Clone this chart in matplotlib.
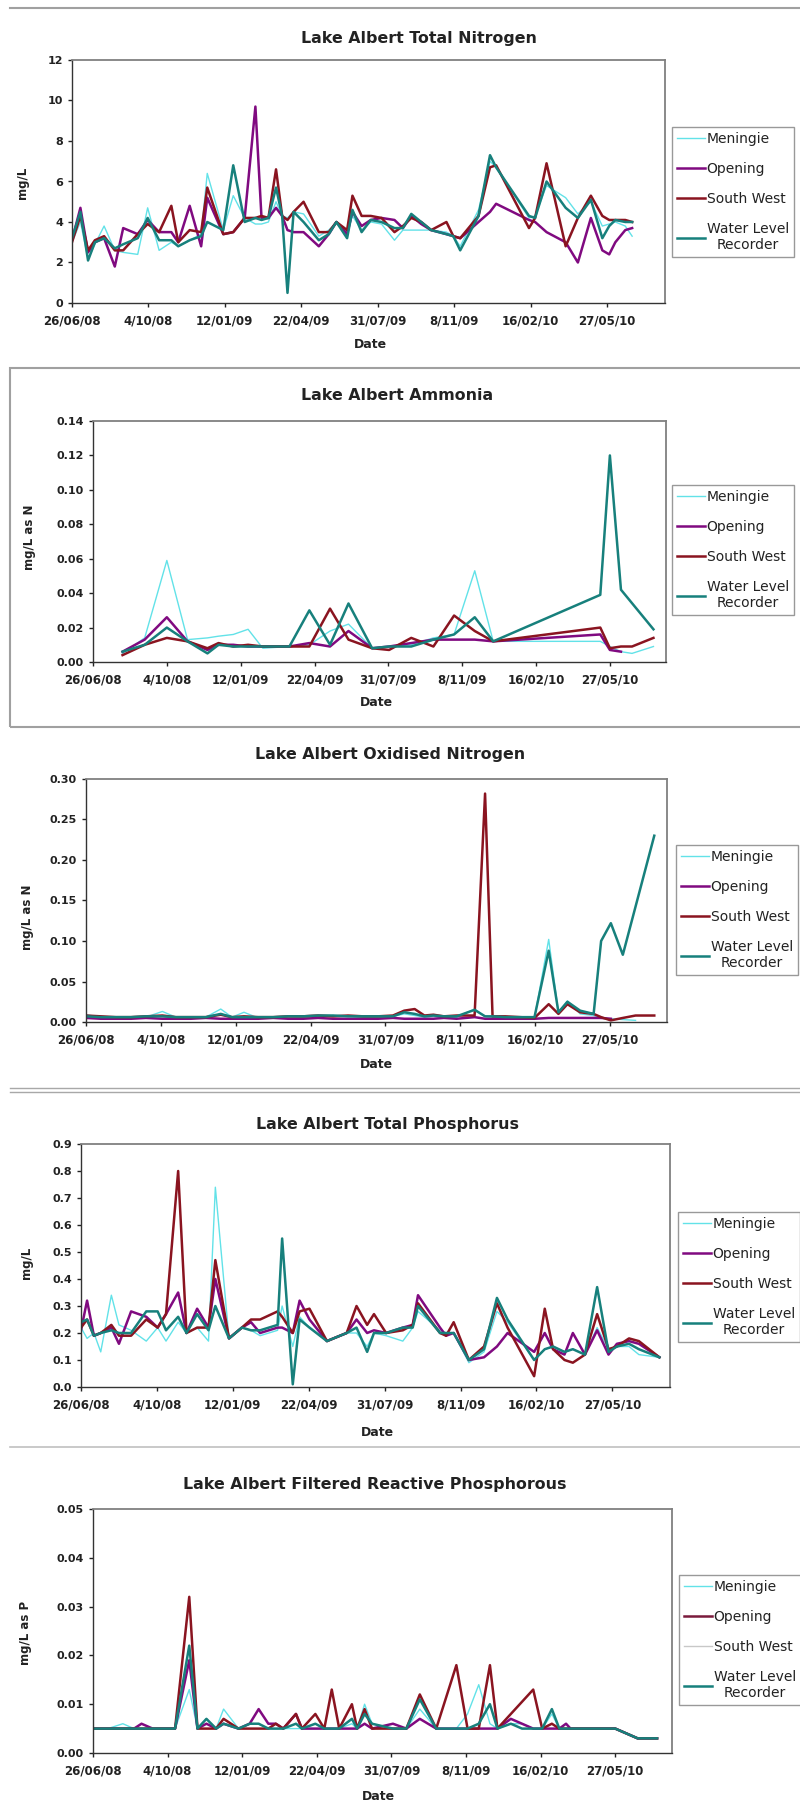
import numpy as np
import matplotlib
matplotlib.use("Agg")
import matplotlib.pyplot as plt
from matplotlib.lines import Line2D
from matplotlib.patches import Rectangle

nan = np.nan
W, H = 800, 1816

SITES = ["Meningie", "Opening", "South West", "Water Level\nRecorder"]
TICK_DAYS = [0, 100, 200, 300, 400, 500, 600, 700]   # days after 26/06/08
TICK_LABELS = ["26/06/08", "4/10/08", "12/01/09", "22/04/09", "31/07/09",
               "8/11/09", "16/02/10", "27/05/10"]
X_MAX = 776

# ---- Total Nitrogen (mg/L) ----
TN_DAYS = [0, 11, 21, 30, 42, 56, 67, 86, 99, 114, 130, 139, 154, 169, 177, 198, 211,
           226, 240, 248, 257, 267, 275, 282, 290, 303, 323, 336, 346, 360, 367, 379,
           391, 405, 422, 433, 444, 457, 470, 490, 499, 508, 532, 547, 555, 598, 606,
           621, 646, 662, 679, 694, 703, 711, 724, 733]
TN_MEN = [3.0, 4.0, 2.2, 2.9, 3.8, 2.6, 2.5, 2.4, 4.7, 2.6, 3.0, 2.8, 3.1, 3.4, 6.4,
          3.6, 5.3, 4.2, 3.9, 3.9, 4.0, 5.0, 4.3, 4.2, 4.5, 4.4, 3.3, 3.6, 4.0, 3.5,
          4.3, 3.6, 4.0, 3.9, 3.1, 3.6, 3.6, 3.6, 3.6, 3.5, 3.3, 2.8, 4.6, 7.0, 6.7,
          4.2, 4.3, 5.8, 5.2, 4.4, 5.0, 3.8, 3.9, 4.0, 3.8, 3.3]
TN_OPEN = [3.1, 4.7, 2.5, 3.0, 3.2, 1.8, 3.7, 3.4, 4.1, 3.5, 3.5, 3.0, 4.8, 2.8, 5.2,
           3.4, 3.5, 4.2, 9.7, 4.2, 4.2, 4.7, 4.3, 3.6, 3.5, 3.5, 2.8, 3.4, 4.0, 3.4,
           4.5, 3.8, 4.1, 4.2, 4.1, 3.7, 4.3, 3.9, 3.6, 3.4, 3.3, 3.2, 4.0, 4.5, 4.9,
           4.1, 4.0, 3.5, 3.0, 2.0, 4.2, 2.6, 2.4, 3.0, 3.6, 3.7]
TN_SW = [3.0, 4.3, 2.6, 3.1, 3.3, 2.6, 2.6, 3.4, 3.9, 3.5, 4.8, 3.0, 3.6, 3.5, 5.7,
         3.4, 3.5, 4.2, 4.2, 4.3, 4.2, 6.6, 4.3, 4.1, 4.5, 5.0, 3.5, 3.5, 4.0, 3.6,
         5.3, 4.3, 4.3, 4.2, 3.5, 3.8, 4.2, 4.0, 3.6, 4.0, 3.3, 3.2, 4.3, 6.7, 6.8,
         3.7, 4.2, 6.9, 2.8, 4.2, 5.3, 4.3, 4.1, 4.1, 4.1, 4.0]
TN_WLR = [3.2, 4.5, 2.1, 3.0, 3.2, 2.7, 2.9, 3.2, 4.2, 3.1, 3.1, 2.8, 3.1, 3.3, 4.0,
          3.6, 6.8, 4.0, 4.2, 4.1, 4.2, 5.7, 4.3, 0.5, 4.5, 4.0, 3.1, 3.4, 4.0, 3.2,
          4.6, 3.5, 4.1, 4.0, 3.7, 3.7, 4.4, 4.0, 3.6, 3.4, 3.3, 2.6, 4.3, 7.3, 6.7,
          4.3, 4.2, 6.0, 4.7, 4.2, 5.1, 3.2, 3.8, 4.1, 4.0, 4.0]

# ---- Ammonia (mg/L as N) ----
NH3_DAYS = [40, 70, 100, 128, 155, 170, 190, 210, 230, 266, 293, 321, 346, 378, 401,
            431, 461, 489, 517, 542, 687, 700, 715, 730, 759]
NH3_MEN = [0.005, 0.014, 0.059, 0.013, 0.014, 0.015, 0.016, 0.019, 0.008, 0.009, 0.010,
           0.018, 0.022, 0.008, 0.009, 0.010, 0.014, 0.016, 0.053, 0.012, 0.012, 0.009,
           0.006, 0.005, 0.009]
NH3_OPEN = [0.006, 0.013, 0.026, 0.012, 0.007, 0.010, 0.010, 0.009, 0.009, 0.009, 0.011,
            0.009, 0.018, 0.008, 0.009, 0.011, 0.013, 0.013, 0.013, 0.012, 0.016, 0.007,
            0.006, nan, nan]
NH3_SW = [0.004, 0.010, 0.014, 0.012, 0.008, 0.011, 0.009, 0.010, 0.009, 0.009, 0.009,
          0.031, 0.013, 0.008, 0.007, 0.014, 0.009, 0.027, 0.018, 0.012, 0.020, 0.008,
          0.009, 0.009, 0.014]
NH3_WLR = [0.006, 0.010, 0.020, 0.012, 0.005, 0.010, 0.009, 0.009, 0.009, 0.009, 0.030,
           0.010, 0.034, 0.008, 0.009, 0.009, 0.013, 0.016, 0.026, 0.012, 0.039, 0.120,
           0.042, nan, 0.019]

# ---- Oxidised Nitrogen (mg/L as N) ----
NOX_DAYS = [0, 20, 40, 60, 80, 102, 120, 140, 160, 180, 195, 211, 230, 250, 270, 290,
            310, 330, 350, 370, 390, 410, 425, 439, 452, 464, 478, 495, 519, 533, 543,
            560, 580, 599, 618, 631, 643, 660, 678, 688, 701, 717, 734, 759]
NOX_MEN = [0.009, 0.006, 0.005, 0.006, 0.006, 0.013, 0.006, 0.005, 0.006, 0.016,
           0.006, 0.012, 0.005, 0.005, 0.007, 0.006, 0.006, 0.008, 0.007, 0.006,
           0.005, 0.007, 0.010, 0.008, 0.006, 0.007, 0.005, 0.006, 0.016, 0.007,
           0.006, 0.006, 0.005, 0.005, 0.102, 0.012, 0.026, 0.010, 0.008, 0.005,
           0.004, 0.003, 0.002, nan]
NOX_OPEN = [0.005, 0.004, 0.004, 0.004, 0.005, 0.004, 0.004, 0.004, 0.005, 0.004,
            0.004, 0.004, 0.004, 0.005, 0.004, 0.004, 0.005, 0.004, 0.004, 0.004,
            0.004, 0.005, 0.004, 0.004, 0.004, 0.004, 0.005, 0.004, 0.006, 0.004,
            0.004, 0.004, 0.004, 0.004, 0.005, 0.005, 0.005, 0.005, 0.005, 0.005,
            0.004, nan, nan, nan]
NOX_SW = [0.008, 0.007, 0.006, 0.006, 0.007, 0.008, 0.006, 0.006, 0.006, 0.009,
          0.006, 0.007, 0.006, 0.006, 0.007, 0.007, 0.008, 0.007, 0.008, 0.007,
          0.007, 0.008, 0.014, 0.016, 0.008, 0.009, 0.007, 0.008, 0.008, 0.282,
          0.007, 0.007, 0.006, 0.005, 0.022, 0.010, 0.022, 0.012, 0.010, 0.006,
          0.002, 0.005, 0.008, 0.008]
NOX_WLR = [0.007, 0.006, 0.006, 0.006, 0.007, 0.007, 0.006, 0.006, 0.006, 0.010,
           0.006, 0.006, 0.006, 0.006, 0.007, 0.007, 0.008, 0.008, 0.007, 0.007,
           0.007, 0.007, 0.012, 0.010, 0.007, 0.008, 0.007, 0.007, 0.015, 0.007,
           0.007, 0.006, 0.006, 0.006, 0.088, 0.012, 0.025, 0.014, 0.010, 0.100,
           0.122, 0.083, nan, 0.230]

# ---- Total Phosphorus (mg/L) ----
TP_DAYS = [0, 8, 17, 26, 40, 50, 66, 86, 101, 112, 128, 139, 153, 168, 177, 195, 212,
           224, 236, 259, 265, 279, 288, 301, 324, 350, 363, 377, 386, 402, 424, 437,
           444, 473, 481, 491, 511, 531, 548, 562, 597, 611, 622, 637, 648, 664, 680,
           695, 706, 722, 735, 762]
TP_MEN = [0.22, 0.18, 0.20, 0.13, 0.34, 0.23, 0.21, 0.17, 0.22, 0.17, 0.24, 0.20, 0.22,
          0.17, 0.74, 0.18, 0.22, 0.21, 0.19, 0.21, 0.30, 0.15, 0.26, 0.22, 0.17, 0.20,
          0.20, 0.15, 0.20, 0.19, 0.17, 0.22, 0.28, 0.21, 0.20, 0.20, 0.09, 0.13, 0.28,
          0.24, 0.10, 0.14, 0.15, 0.13, 0.14, 0.12, 0.22, 0.14, 0.15, 0.15, 0.12, 0.11]
TP_OPEN = [0.21, 0.32, 0.19, 0.20, 0.22, 0.16, 0.28, 0.26, 0.22, 0.27, 0.35, 0.20, 0.29,
           0.22, 0.40, 0.18, 0.22, 0.24, 0.20, 0.22, 0.22, 0.20, 0.32, 0.25, 0.17, 0.20,
           0.25, 0.20, 0.21, 0.20, 0.22, 0.23, 0.34, 0.22, 0.19, 0.20, 0.10, 0.11, 0.15,
           0.20, 0.13, 0.20, 0.14, 0.12, 0.20, 0.12, 0.21, 0.12, 0.16, 0.17, 0.16, 0.11]
TP_SW = [0.22, 0.25, 0.19, 0.20, 0.23, 0.19, 0.19, 0.25, 0.22, 0.27, 0.80, 0.20, 0.22,
         0.22, 0.47, 0.18, 0.22, 0.25, 0.25, 0.28, 0.26, 0.20, 0.28, 0.29, 0.17, 0.20,
         0.30, 0.23, 0.27, 0.20, 0.21, 0.23, 0.31, 0.20, 0.19, 0.24, 0.10, 0.15, 0.31,
         0.22, 0.04, 0.29, 0.14, 0.10, 0.09, 0.12, 0.27, 0.14, 0.15, 0.18, 0.17, 0.11]
TP_WLR = [0.24, 0.25, 0.19, 0.20, 0.21, 0.20, 0.20, 0.28, 0.28, 0.21, 0.26, 0.20, 0.27,
          0.21, 0.30, 0.18, 0.22, 0.21, 0.21, 0.23, 0.55, 0.01, 0.25, 0.22, 0.17, 0.20,
          0.22, 0.13, 0.20, 0.20, 0.22, 0.22, 0.30, 0.20, 0.20, 0.20, 0.10, 0.14, 0.33,
          0.25, 0.10, 0.14, 0.15, 0.13, 0.14, 0.12, 0.37, 0.13, 0.15, 0.16, 0.14, 0.11]

# ---- Filtered Reactive Phosphorous (mg/L as P) ----
FRP_DAYS = [0, 20, 40, 55, 65, 80, 110, 129, 140, 152, 165, 175, 195, 210, 222, 235,
            245, 255, 272, 280, 298, 310, 320, 330, 347, 354, 364, 374, 402, 420, 438,
            460, 487, 502, 517, 532, 542, 560, 575, 590, 602, 615, 625, 634, 640, 700,
            730, 756]
FRP_MEN = [0.005, 0.005, 0.006, 0.005, 0.005, 0.005, 0.005, 0.013, 0.005, 0.007,
           0.005, 0.009, 0.005, 0.006, 0.006, 0.005, 0.005, 0.005, 0.005, 0.005,
           0.005, 0.005, 0.005, 0.005, 0.006, 0.005, 0.010, 0.006, 0.005, 0.005,
           0.009, 0.005, 0.005, 0.008, 0.014, 0.006, 0.005, 0.006, 0.006, 0.005,
           0.005, 0.008, 0.005, 0.005, 0.005, 0.005, 0.003, 0.003]
FRP_OPEN = [0.005, 0.005, 0.005, 0.005, 0.006, 0.005, 0.005, 0.019, 0.005, 0.006,
            0.005, 0.006, 0.005, 0.006, 0.009, 0.006, 0.006, 0.005, 0.008, 0.005,
            0.005, 0.005, 0.005, 0.005, 0.005, 0.005, 0.006, 0.005, 0.006, 0.005,
            0.007, 0.005, 0.005, 0.005, 0.005, 0.005, 0.005, 0.007, 0.006, 0.005,
            0.005, 0.005, 0.005, 0.006, 0.005, 0.005, 0.003, 0.003]
FRP_SW = [0.005, 0.005, 0.005, 0.005, 0.005, 0.005, 0.005, 0.032, 0.005, 0.005,
          0.005, 0.007, 0.005, 0.005, 0.005, 0.005, 0.006, 0.005, 0.008, 0.005,
          0.008, 0.005, 0.013, 0.005, 0.010, 0.005, 0.009, 0.005, 0.005, 0.005,
          0.012, 0.005, 0.018, 0.005, 0.005, 0.018, 0.005, nan, nan, 0.013,
          0.005, 0.006, 0.005, 0.005, 0.005, 0.005, 0.003, 0.003]
FRP_WLR = [0.005, 0.005, 0.005, 0.005, 0.005, 0.005, 0.005, 0.022, 0.005, 0.007,
           0.005, 0.006, 0.005, 0.006, 0.006, 0.005, 0.005, 0.005, 0.006, 0.005,
           0.006, 0.005, 0.005, 0.005, 0.007, 0.005, 0.008, 0.006, 0.005, 0.005,
           0.011, 0.005, 0.005, 0.005, 0.006, 0.010, 0.005, 0.006, 0.005, 0.005,
           0.005, 0.009, 0.005, 0.005, 0.005, 0.005, 0.003, 0.003]

PANELS = [
    dict(title="Lake Albert Total Nitrogen", ylabel="mg/L", ymax=12, ystep=2, fmt="{:.0f}",
         days=TN_DAYS, series=[TN_MEN, TN_OPEN, TN_SW, TN_WLR]),
    dict(title="Lake Albert Ammonia", ylabel="mg/L as N", ymax=0.14, ystep=0.02, fmt="{:.2f}",
         days=NH3_DAYS, series=[NH3_MEN, NH3_OPEN, NH3_SW, NH3_WLR]),
    dict(title="Lake Albert Oxidised Nitrogen", ylabel="mg/L as N", ymax=0.30, ystep=0.05,
         fmt="{:.2f}", days=NOX_DAYS, series=[NOX_MEN, NOX_OPEN, NOX_SW, NOX_WLR]),
    dict(title="Lake Albert Total Phosphorus", ylabel="mg/L", ymax=0.9, ystep=0.1, fmt="{:.1f}",
         days=TP_DAYS, series=[TP_MEN, TP_OPEN, TP_SW, TP_WLR]),
    dict(title="Lake Albert Filtered Reactive Phosphorous", ylabel="mg/L as P", ymax=0.05,
         ystep=0.01, fmt="{:.2f}", days=FRP_DAYS, series=[FRP_MEN, FRP_OPEN, FRP_SW, FRP_WLR]),
]

# pixel layout: axes box (left, right, top, bottom), title centre, ylabel centre,
# "Date" centre, legend top-left corner
LAYOUT = [
    dict(box=(72, 665, 60, 303), title=(419, 38), ylab=(23, 183), date=(370, 345), leg=(672, 127)),
    dict(box=(93, 666, 421, 662), title=(397, 396), ylab=(30, 537), date=(376, 703), leg=(672, 485)),
    dict(box=(86, 667, 779, 1022), title=(390, 755), ylab=(28, 917), date=(376, 1064), leg=(676, 845)),
    dict(box=(81, 670, 1144, 1387), title=(388, 1124), ylab=(26, 1263), date=(377, 1432), leg=(678, 1212)),
    dict(box=(93, 672, 1509, 1753), title=(375, 1485), ylab=(25, 1633), date=(378, 1797), leg=(679, 1575)),
]

COLORS = ["#62e2e8", "#800a80", "#8a1420", "#17807c"]
WIDTHS = [1.0, 1.8, 1.8, 1.8]


def fx(x):
    return x / W


def fy(y):
    return 1 - y / H


fig = plt.figure(figsize=(W / 100, H / 100), dpi=100)
fig.patch.set_facecolor("white")

for i, (p, lay) in enumerate(zip(PANELS, LAYOUT)):
    l, r, t, b = lay["box"]
    ax = fig.add_axes([fx(l), fy(b), (r - l) / W, (b - t) / H])
    days = np.asarray(p["days"], float)
    for name, vals, c, lw in zip(SITES, p["series"], COLORS, WIDTHS):
        y = np.asarray(vals, float)
        m = ~np.isnan(y)
        ax.plot(days[m], y[m], color=c, lw=lw, label=name)
    ax.set_xlim(0, X_MAX)
    ax.set_ylim(0, p["ymax"])
    ax.set_xticks(TICK_DAYS)
    ax.set_xticklabels(TICK_LABELS, fontsize=8.5, fontweight="bold")
    yt = np.arange(0, p["ymax"] + p["ystep"] / 2, p["ystep"])
    ax.set_yticks(yt)
    ax.set_yticklabels([p["fmt"].format(v) for v in yt], fontsize=8, fontweight="bold")
    ax.tick_params(axis="x", direction="out", length=3, width=1, pad=5.5, colors="#222222")
    ax.tick_params(axis="y", direction="out", length=3, width=1, pad=3.5, colors="#222222")
    for s in ("left", "bottom"):
        ax.spines[s].set_color("#333333")
        ax.spines[s].set_linewidth(1.0)
    for s in ("top", "right"):
        ax.spines[s].set_color("#808080")
        ax.spines[s].set_linewidth(1.3)

    fig.text(fx(lay["title"][0]), fy(lay["title"][1]), p["title"], ha="center",
             va="center", fontsize=11.4, fontweight="bold", color="#222222")
    fig.text(fx(lay["ylab"][0]), fy(lay["ylab"][1]), p["ylabel"], rotation=90,
             ha="center", va="center", fontsize=8.5, fontweight="bold", color="#222222")
    fig.text(fx(lay["date"][0]), fy(lay["date"][1]), "Date", ha="center", va="center",
             fontsize=9, fontweight="bold", color="#222222")

    handles, labels = ax.get_legend_handles_labels()
    if i == 4:
        handles = [Line2D([], [], color=COLORS[0], lw=1.0),
                   Line2D([], [], color="#7a1a3c", lw=1.8),
                   Line2D([], [], color="#c8c8c8", lw=1.0),
                   Line2D([], [], color=COLORS[3], lw=1.8)]
    leg = ax.legend(handles, labels, loc="upper left",
                    bbox_to_anchor=(fx(lay["leg"][0]), fy(lay["leg"][1])),
                    bbox_transform=fig.transFigure, borderaxespad=0, frameon=True,
                    fancybox=False, edgecolor="#808080", fontsize=10, labelspacing=1.15,
                    handlelength=2.0, handletextpad=0.15, borderpad=0.35)
    leg.get_frame().set_linewidth(1.0)
    leg.get_texts()[3].set_multialignment("center")
    for txt in leg.get_texts():
        txt.set_color("#222222")

# separators / frames around the panels
fig.add_artist(Line2D([fx(10), fx(800)], [fy(8), fy(8)], color="#a0a0a0", lw=1.5))
fig.add_artist(Rectangle((fx(10), fy(727)), (812 - 10) / W, (727 - 368) / H, fill=False,
                         edgecolor="#a0a0a0", lw=1.5, transform=fig.transFigure))
for yy in (1088, 1092):
    fig.add_artist(Line2D([fx(10), fx(800)], [fy(yy), fy(yy)], color="#a8a8a8", lw=1.0))
fig.add_artist(Line2D([fx(10), fx(800)], [fy(1447), fy(1447)], color="#c0c0c0", lw=1.2))

fig.savefig("out.png", dpi=100)
